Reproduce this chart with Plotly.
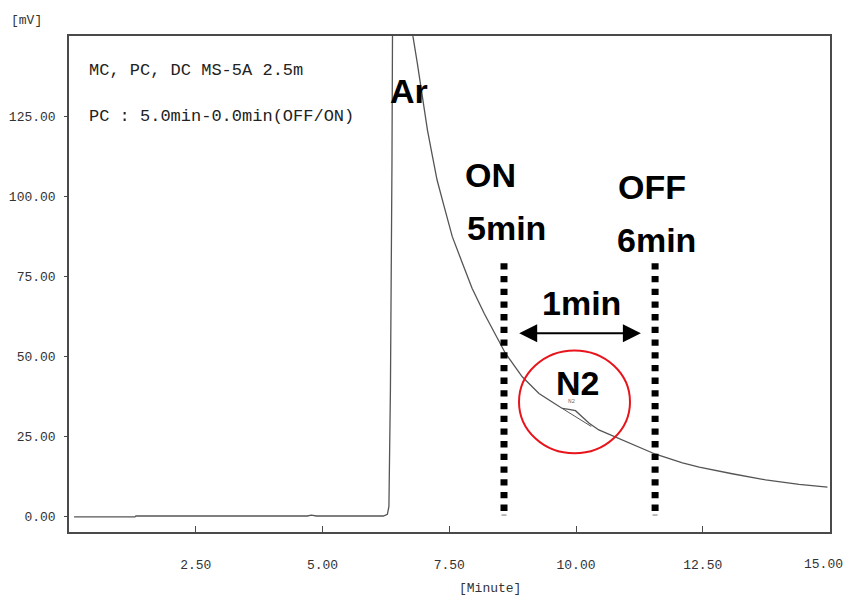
import plotly.graph_objects as go

# Chromatogram trace: retention time (min) vs detector signal (mV)
time_min = [0.10, 1.30, 1.32, 4.70, 4.78, 4.88, 6.20, 6.28, 6.31, 6.34, 6.37, 6.39,
            6.42, 6.60, 6.785, 6.87, 6.97, 7.07, 7.17, 7.26, 7.40, 7.56, 7.76, 7.95,
            8.19, 8.42, 8.61, 8.94, 9.27, 9.53, 9.73, 9.86, 9.99, 10.12, 10.26,
            10.45, 10.78, 11.11, 11.57, 12.10, 12.43, 13.08, 13.74, 14.40, 14.96]
signal_mv = [-0.3, -0.3, 0.0, 0.0, 0.3, 0.0, 0.0, 0.5, 3.0, 40.0, 110.0, 150.0,
             300.0, 176.0, 149.8, 141.5, 131.0, 120.6, 112.3, 105.0, 96.7, 87.3, 79.0, 71.2,
             63.3, 56.6, 50.8, 43.5, 38.3, 35.6, 33.6, 33.3, 32.9, 31.0, 29.0,
             26.9, 24.6, 22.4, 19.3, 16.6, 15.3, 13.2, 11.3, 9.9, 9.0]

# Integration baseline drawn under the N2 peak
n2_base_time = [9.73, 10.30]
n2_base_mv = [33.6, 28.0]

# Axis ticks (the last x label sits flush with the frame, so it is drawn separately)
x_ticks = [2.5, 5.0, 7.5, 10.0, 12.5, 15.0]
x_ticktext = ["2.50", "5.00", "7.50", "10.00", "12.50", ""]
x_end_label = "15.00"
y_ticks = [0, 25, 50, 75, 100, 125]
y_ticktext = ["0.00", "25.00", "50.00", "75.00", "100.00", "125.00"]

# Valve switching marks (positions on the time axis)
valve_on_x = 8.58
valve_off_x = 11.56

mono = "Liberation Mono"
bold = "Liberation Sans"
trace_color = "#555555"
frame_color = "#4a4a4a"
tick_font = dict(family=mono, size=13, color="#333333")

fig = go.Figure()
fig.add_trace(go.Scatter(x=time_min, y=signal_mv, mode="lines",
                         line=dict(color=trace_color, width=1.3),
                         hoverinfo="skip", showlegend=False))
fig.add_trace(go.Scatter(x=n2_base_time, y=n2_base_mv, mode="lines",
                         line=dict(color=trace_color, width=1),
                         hoverinfo="skip", showlegend=False))

shapes = []
for vx in (valve_on_x, valve_off_x):
    shapes.append(dict(type="line", xref="x", yref="y", x0=vx, x1=vx, y0=1.6, y1=80,
                       line=dict(color="black", width=7, dash="6.3px,6.4px")))
    shapes.append(dict(type="line", xref="x", yref="y", x0=vx - 0.05, x1=vx + 0.05,
                       y0=0.3, y1=0.3, line=dict(color="#777777", width=1)))
# red ring around the N2 peak
shapes.append(dict(type="circle", xref="x", yref="y", x0=8.876, x1=11.065,
                   y0=19.6, y1=51.7, line=dict(color="#e8141c", width=2)))

annotations = [
    dict(text="Ar", x=6.71, y=132.7),
    dict(text="ON", x=8.32, y=106.6),
    dict(text="5min", x=8.62, y=90.0),
    dict(text="OFF", x=11.49, y=102.8),
    dict(text="6min", x=11.59, y=86.3),
    dict(text="1min", x=10.11, y=66.7),
    dict(text="N2", x=10.03, y=41.7),
]
for a in annotations:
    a.update(xref="x", yref="y", showarrow=False,
             font=dict(family=bold, size=34, color="black", weight="bold"))

# double-headed arrow spanning the 1 min window
annotations.append(dict(x=11.28, y=57.1, ax=8.85, ay=57.1, xref="x", yref="y",
                        axref="x", ayref="y", text="", showarrow=True,
                        arrowside="end+start", arrowhead=2, arrowsize=1.8,
                        arrowwidth=2, arrowcolor="black"))
# tiny peak label printed by the integrator
annotations.append(dict(text="N2", x=9.92, y=35.8, xref="x", yref="y", showarrow=False,
                        font=dict(family=mono, size=6, color="#777777")))
# method header
header_font = dict(family=mono, size=17, color="#222222")
annotations.append(dict(text="MC, PC, DC MS-5A 2.5m", x=0.0233, y=0.931,
                        xref="paper", yref="paper", xanchor="left", yanchor="middle",
                        showarrow=False, font=header_font))
annotations.append(dict(text="PC : 5.0min-0.0min(OFF/ON)", x=0.0233, y=0.838,
                        xref="paper", yref="paper", xanchor="left", yanchor="middle",
                        showarrow=False, font=header_font))
# axis unit labels
annotations.append(dict(text="[mV]", x=-0.0565, y=1.032, xref="paper", yref="paper",
                        xanchor="center", yanchor="middle", showarrow=False,
                        font=dict(family=mono, size=13, color="#333333")))
annotations.append(dict(text="[Minute]", x=0.553, y=-0.113, xref="paper", yref="paper",
                        xanchor="center", yanchor="middle", showarrow=False,
                        font=dict(family=mono, size=13, color="#333333")))
# last time-axis label, nudged left so it stays inside the page
annotations.append(dict(text=x_end_label, x=1.0, y=-0.0665, xref="paper", yref="paper",
                        xanchor="right", yanchor="middle", xshift=15, showarrow=False,
                        font=tick_font))

fig.update_layout(
    width=847, height=597,
    margin=dict(l=69, r=17, t=36, b=65, autoexpand=False),
    paper_bgcolor="white", plot_bgcolor="white",
    shapes=shapes, annotations=annotations, showlegend=False,
    xaxis=dict(range=[0, 15.01], tickvals=x_ticks, ticktext=x_ticktext,
               ticks="inside", ticklen=6, tickcolor=frame_color,
               showline=True, mirror=True, linecolor=frame_color, linewidth=1.5,
               showgrid=False, zeroline=False, ticklabelstandoff=20,
               automargin=False, tickfont=tick_font),
    yaxis=dict(range=[-5, 150], tickvals=y_ticks, ticktext=y_ticktext,
               ticks="outside", ticklen=3, tickcolor=frame_color,
               showline=True, mirror=True, linecolor=frame_color, linewidth=1.5,
               showgrid=False, zeroline=False, ticklabelstandoff=6, automargin=False,
               tickfont=tick_font),
)

fig.write_html("out.html")
